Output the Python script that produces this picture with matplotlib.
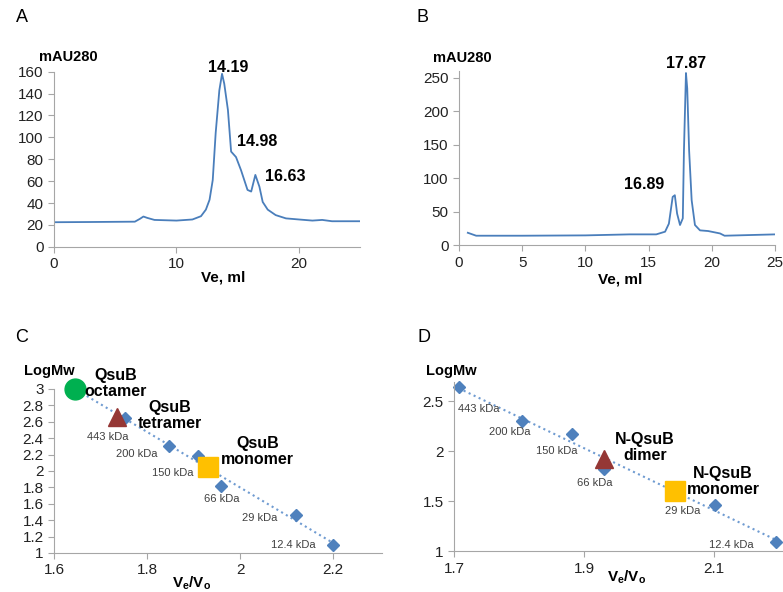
import numpy as np
import matplotlib.pyplot as plt
from matplotlib.ticker import FuncFormatter

plt.rcParams['font.family'] = ['Liberation Sans', 'DejaVu Sans']
plt.rcParams['mathtext.fontset'] = 'custom'
plt.rcParams['mathtext.rm'] = 'Liberation Sans'
plt.rcParams['mathtext.bf'] = 'Liberation Sans:bold'

# panel A chromatogram (Ve ml, mAU280)
a_ve = [0, 3, 6.6, 7.0, 7.3, 7.6, 8.2, 10, 11.3, 12.0, 12.4, 12.7, 12.96, 13.2, 13.5,
        13.72, 13.9, 14.2, 14.46, 14.86, 15.27, 15.8, 16.1, 16.44, 16.77, 17.04,
        17.45, 18.1, 18.94, 20.0, 21.1, 21.9, 22.7, 25]
a_mau = [22.5, 22.7, 23, 25.5, 27.7, 26.5, 24.6, 24, 25, 28, 34, 43, 61, 104, 143,
         158, 149, 125, 87, 82, 70, 52, 50.5, 65.7, 55, 41,
         34, 29, 26, 25, 24, 24.6, 23.4, 23.4]
a_peaks = ['14.19', '14.98', '16.63']
a_peak_pos = [(14.26, 164), (16.6, 96), (18.9, 64)]

# panel B chromatogram
b_ve = [0.71, 1.37, 5, 10, 13.5, 15.6, 16.3, 16.6, 16.9, 17.07, 17.25, 17.48, 17.7,
        17.79, 17.95, 18.05, 18.2, 18.4, 18.66, 19.06, 19.7, 20.64, 21.0, 25]
b_mau = [18.4, 14, 14, 14.5, 16, 16, 20, 32, 72, 74.5, 47, 30, 40,
         141, 257, 234, 141, 67, 30, 22, 21, 17.4, 14, 16]
b_peaks = ['17.87', '16.89']
b_peak_pos = [(17.96, 272), (14.64, 90)]

# panel C calibration
c_std_x = [1.753, 1.848, 1.91, 1.959, 2.121, 2.199]
std_mw = [443, 200, 150, 66, 29, 12.4]
std_names = ['443 kDa', '200 kDa', '150 kDa', '66 kDa', '29 kDa', '12.4 kDa']
c_name_pos = [(1.716, 2.41), (1.778, 2.21), (1.856, 1.98), (1.961, 1.66), (2.043, 1.43), (2.114, 1.10)]
c_octamer = (1.645, 3.0)
c_tetramer = (1.735, 2.66)
c_monomer = (1.93, 2.05)

# panel D calibration
d_std_x = [1.707, 1.805, 1.882, 1.931, 2.101, 2.195]
d_name_pos = [(1.738, 2.42), (1.786, 2.19), (1.858, 2.0), (1.917, 1.68), (2.051, 1.40), (2.126, 1.06)]
d_dimer = (1.93, 1.92)
d_monomer = (2.04, 1.60)

line_blue = '#4a7ebb'
pt_blue = '#4f81bd'
axis_grey = '#a6a6a6'

fig = plt.figure(figsize=(7.83, 5.92), dpi=100)
axA = fig.add_axes([0.069, 0.583, 0.391, 0.296])
axB = fig.add_axes([0.586, 0.586, 0.404, 0.294])
axC = fig.add_axes([0.069, 0.066, 0.419, 0.277])
axD = fig.add_axes([0.580, 0.069, 0.420, 0.285])

fmt = FuncFormatter(lambda v, p: '%g' % round(v, 3))
for ax in [axA, axB, axC, axD]:
    for s in ['top', 'right']:
        ax.spines[s].set_visible(False)
    for s in ['left', 'bottom']:
        ax.spines[s].set_color(axis_grey)
    ax.tick_params(colors=axis_grey, labelcolor='#222222', labelsize=11, length=4, width=0.8)
    ax.xaxis.set_major_formatter(fmt)
    ax.yaxis.set_major_formatter(fmt)

# A
axA.plot(a_ve, a_mau, color=line_blue, lw=1.3)
axA.set_xlim(0, 25)
axA.set_ylim(0, 160)
axA.set_xticks([0, 10, 20])
axA.set_yticks(range(0, 161, 20))
for lab, (x, y) in zip(a_peaks, a_peak_pos):
    axA.text(x, y, lab, ha='center', va='center', fontsize=11.5, fontweight='bold', clip_on=False)
axA.text(0.047, 1.086, 'mAU280', transform=axA.transAxes, ha='center', va='center',
         fontsize=10.5, fontweight='bold')
axA.set_xlabel('Ve, ml', fontsize=11, fontweight='bold')
axA.xaxis.set_label_coords(0.552, -0.137)

# B
axB.plot(b_ve, b_mau, color=line_blue, lw=1.3)
axB.set_xlim(0, 25)
axB.set_ylim(0, 260)
axB.set_xticks(range(0, 26, 5))
axB.set_yticks(range(0, 251, 50))
for lab, (x, y) in zip(b_peaks, b_peak_pos):
    axB.text(x, y, lab, ha='center', va='center', fontsize=11.5, fontweight='bold', clip_on=False)
axB.text(0.01, 1.075, 'mAU280', transform=axB.transAxes, ha='center', va='center',
         fontsize=10.5, fontweight='bold')
axB.set_xlabel('Ve, ml', fontsize=11, fontweight='bold')
axB.xaxis.set_label_coords(0.509, -0.155)

std_log = np.log10(std_mw)

# C
k = np.polyfit(c_std_x, std_log, 1)
tx = np.array([1.65, 2.2])
axC.plot(tx, np.polyval(k, tx), ':', color='#6f9bd1', lw=1.5)
axC.plot(c_std_x, std_log, 'D', color=pt_blue, ms=6, clip_on=False)
axC.plot(*c_octamer, 'o', color='#00b050', ms=15, clip_on=False)
axC.plot(*c_tetramer, '^', color='#953735', ms=13, clip_on=False)
axC.plot(*c_monomer, 's', color='#ffc000', ms=14, clip_on=False)
for lab, (x, y) in zip(std_names, c_name_pos):
    axC.text(x, y, lab, ha='center', va='center', fontsize=8, color='#404040')
axC.text(1.733, 3.07, 'QsuB\noctamer', ha='center', va='center', fontsize=11.5,
         fontweight='bold', linespacing=1.1)
axC.text(1.849, 2.68, 'QsuB\ntetramer', ha='center', va='center', fontsize=11.5,
         fontweight='bold', linespacing=1.1)
axC.text(2.037, 2.24, 'QsuB\nmonomer', ha='center', va='center', fontsize=11.5,
         fontweight='bold', linespacing=1.1)
axC.set_xlim(1.6, 2.305)
axC.set_ylim(1, 3)
axC.set_xticks([1.6, 1.8, 2.0, 2.2])
axC.set_yticks(np.arange(1, 3.01, 0.2))
axC.text(-0.015, 1.11, 'LogMw', transform=axC.transAxes, ha='center', va='center',
         fontsize=10.5, fontweight='bold')
axC.set_xlabel(r'V$_\mathbf{e}$/V$_\mathbf{o}$', fontsize=11, fontweight='bold')
axC.xaxis.set_label_coords(0.42, -0.128)

# D
k = np.polyfit(d_std_x, std_log, 1)
tx = np.array([1.707, 2.195])
axD.plot(tx, np.polyval(k, tx), ':', color='#6f9bd1', lw=1.5)
axD.plot(d_std_x, std_log, 'D', color=pt_blue, ms=6, clip_on=False)
axD.plot(*d_dimer, '^', color='#953735', ms=13, clip_on=False)
axD.plot(*d_monomer, 's', color='#ffc000', ms=14, clip_on=False)
for lab, (x, y) in zip(std_names, d_name_pos):
    axD.text(x, y, lab, ha='center', va='center', fontsize=8, color='#404040')
axD.text(1.994, 2.04, 'N-QsuB\ndimer', ha='center', va='center', fontsize=11.5,
         fontweight='bold', linespacing=1.1)
axD.text(2.114, 1.70, 'N-QsuB\nmonomer', ha='center', va='center', fontsize=11.5,
         fontweight='bold', linespacing=1.1)
axD.set_xlim(1.7, 2.206)
axD.set_ylim(1, 2.69)
axD.set_xticks([1.7, 1.9, 2.1])
axD.set_yticks([1, 1.5, 2, 2.5])
axD.text(-0.01, 1.07, 'LogMw', transform=axD.transAxes, ha='center', va='center',
         fontsize=10.5, fontweight='bold')
axD.set_xlabel(r'V$_\mathbf{e}$/V$_\mathbf{o}$', fontsize=11, fontweight='bold')
axD.xaxis.set_label_coords(0.526, -0.1)

# panel letters
for lab, x, y in [('A', 16, 17), ('B', 416, 17), ('C', 15, 337), ('D', 417, 337)]:
    fig.text(x / 783, 1 - y / 592, lab, ha='left', va='center', fontsize=13)

fig.savefig('out.png', dpi=100)
